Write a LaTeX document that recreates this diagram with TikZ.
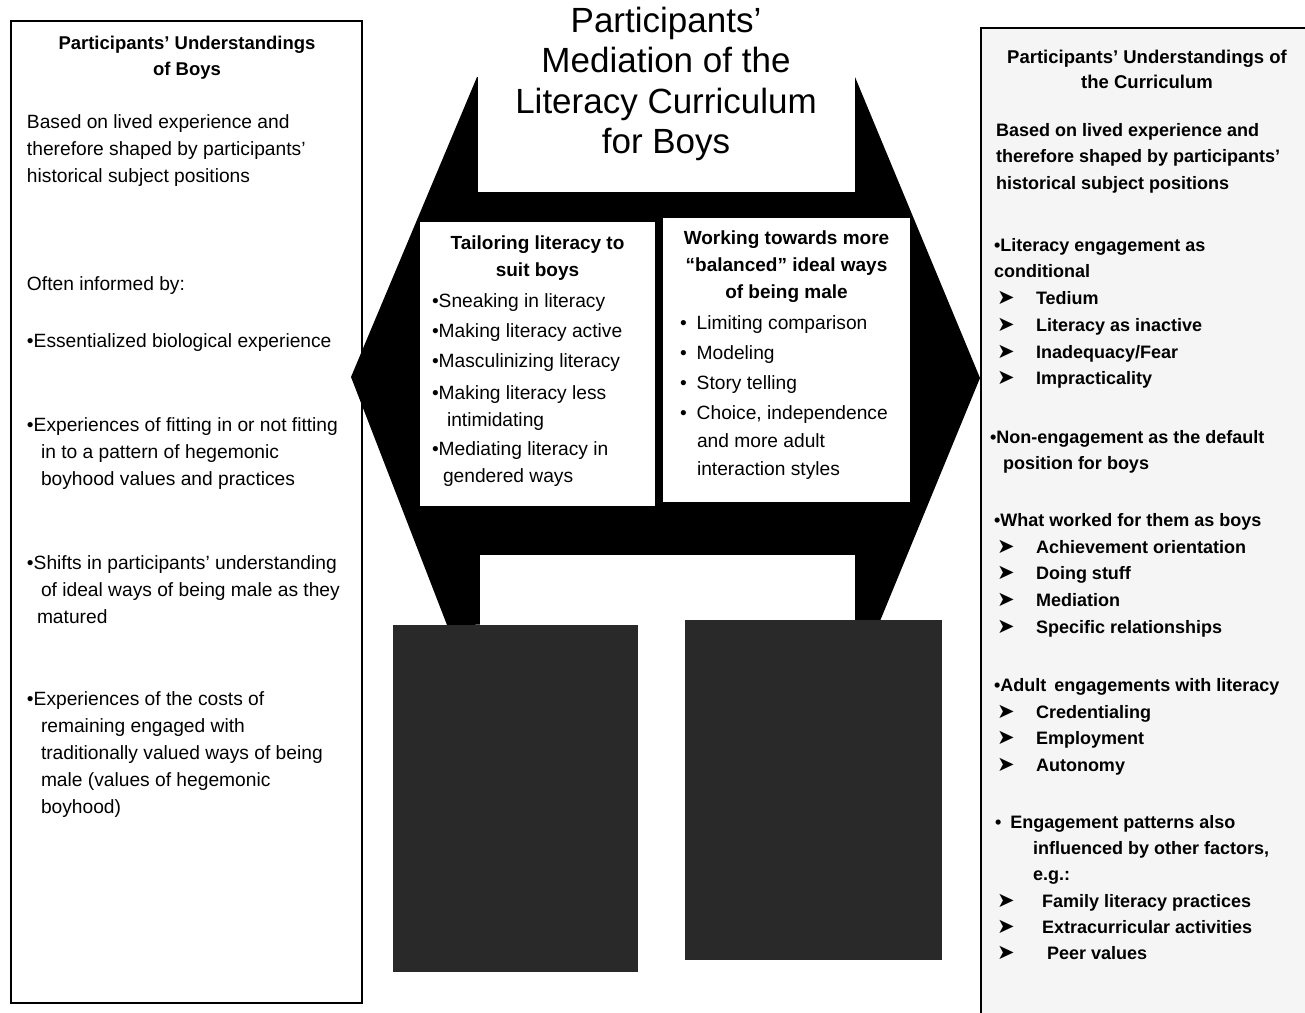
\documentclass[tikz,border=0pt]{standalone}
\usepackage{fontspec}
\setmainfont{Liberation Sans}
\newfontfamily\dv{DejaVu Sans}
\newcommand\arrowline[4]{\node[rbody] (#1) at (997,#2) {\makebox[#3][l]{\mdseries\fontsize{21}{21}\selectfont\dv ➤}#4};}
\begin{document}
\begin{tikzpicture}[x=1pt,y=-1pt,
  every node/.style={inner sep=0pt,outer sep=0pt},
  body/.style={anchor=north west,align=left,font=\fontsize{19.2}{27}\selectfont},
  bhead/.style={anchor=north,align=center,font=\fontsize{19}{27}\selectfont\bfseries},
  lhead/.style={anchor=north,align=center,font=\fontsize{18.5}{26}\selectfont\bfseries},
  rbody/.style={anchor=north west,align=left,font=\fontsize{18}{26.7}\selectfont\bfseries},
  rhead/.style={anchor=north,align=center,font=\fontsize{18.5}{25.5}\selectfont\bfseries},
  ttl/.style={anchor=north,align=center,font=\fontsize{35}{40.5}\selectfont},
  frame/.style={draw=black,line width=1.3pt},
  hole/.style={fill=white},
  shade/.style={fill=black!84}
]
\useasboundingbox (0,0) rectangle (1305,1012);
\clip (0,0) rectangle (1305,1012);

% ---------- left box ----------
\draw[frame,fill=white] (11,21) rectangle (362,1003);
\node[lhead] (lt) at (187,36) {Participants’ Understandings\\of Boys};
\node[body] (lb1) at (27,115) {Based on lived experience and\\therefore shaped by participants’\\historical subject positions};
\node[body] (lb2) at (27,277) {Often informed by:};
\node[body] (lb3) at (27,334) {•Essentialized biological experience};
\node[body] (lb4) at (27,418) {•Experiences of fitting in or not fitting\\\hspace*{14pt}in to a pattern of hegemonic\\\hspace*{14pt}boyhood values and practices};
\node[body] (lb5) at (27,556) {•Shifts in participants’ understanding\\\hspace*{14pt}of ideal ways of being male as they\\\hspace*{10pt}matured};
\node[body] (lb6) at (27,692) {•Experiences of the costs of\\\hspace*{14pt}remaining engaged with\\\hspace*{14pt}traditionally valued ways of being\\\hspace*{14pt}male (values of hegemonic\\\hspace*{14pt}boyhood)};

% ---------- centre shape ----------
\fill[black] (477,77) -- (855,77) -- (980,378) -- (880,621) -- (447,625) -- (351,377) -- cycle;
\fill[hole] (478,0) rectangle (855,192);
\node[ttl] (title) at (666,7) {Participants’\\Mediation of the\\Literacy Curriculum\\for Boys};

\fill[hole] (420,222) rectangle (655,506);
\fill[hole] (663,218) rectangle (910,502);
\node[bhead] (th) at (537.5,236) {Tailoring literacy to\\suit boys};
\node[body] (t1) at (432,294) {•Sneaking in literacy};
\node[body] (t2) at (432,324) {•Making literacy active};
\node[body] (t3) at (432,354) {•Masculinizing literacy};
\node[body] (t4) at (432,386) {•Making literacy less\\\hspace*{15pt}intimidating};
\node[body] (t5) at (432,442) {•Mediating literacy in\\\hspace*{11pt}gendered ways};

\node[bhead] (wh) at (786.5,231) {Working towards more\\“balanced” ideal ways\\of being male};
\node[body] (w1) at (680,316) {•\hspace{10pt}Limiting comparison};
\node[body] (w2) at (680,346) {•\hspace{10pt}Modeling};
\node[body] (w3) at (680,376) {•\hspace{10pt}Story telling};
\node[body,font=\fontsize{19.2}{28}\selectfont] (w4) at (680,406) {•\hspace{10pt}Choice, independence\\\hspace*{17pt}and more adult\\\hspace*{17pt}interaction styles};

\fill[hole] (480,555) rectangle (855,626);
\fill[shade] (393,625) rectangle (638,972);
\fill[shade] (685,620) rectangle (942,960);

% ---------- right box ----------
\draw[line width=1.5pt,fill=black!4] (981,28) rectangle (1320,1030);
\node[rhead] (rt) at (1147,50) {Participants’ Understandings of\\the Curriculum};
\node[rbody] (r1) at (996,123) {Based on lived experience and\\therefore shaped by participants’\\historical subject positions};
\node[rbody] (r2) at (994,238) {•Literacy engagement as\\conditional};
\arrowline{a1}{291}{39pt}{Tedium}
\arrowline{a2}{318}{39pt}{Literacy as inactive}
\arrowline{a3}{345}{39pt}{Inadequacy/Fear}
\arrowline{a4}{371}{39pt}{Impracticality}
\node[rbody] (r3) at (990,430) {•Non-engagement as the default\\\hspace*{13pt}position for boys};
\node[rbody] (r4) at (994,513) {•What worked for them as boys};
\arrowline{a5}{540}{39pt}{Achievement orientation}
\arrowline{a6}{566}{39pt}{Doing stuff}
\arrowline{a7}{593}{39pt}{Mediation}
\arrowline{a8}{620}{39pt}{Specific relationships}
\node[rbody] (r5) at (994,678) {•Adult\hspace{8pt}engagements with literacy};
\arrowline{a9}{705}{39pt}{Credentialing}
\arrowline{a10}{731}{39pt}{Employment}
\arrowline{a11}{758}{39pt}{Autonomy}
\node[rbody,font=\fontsize{18}{26}\selectfont\bfseries] (r6) at (995,815) {•\hspace{9pt}Engagement patterns also\\\hspace*{38pt}influenced by other factors,\\\hspace*{38pt}e.g.:};
\arrowline{a12}{894}{45pt}{Family literacy practices}
\arrowline{a13}{920}{45pt}{Extracurricular activities}
\arrowline{a14}{946}{50pt}{Peer values}
\end{tikzpicture}
\end{document}
